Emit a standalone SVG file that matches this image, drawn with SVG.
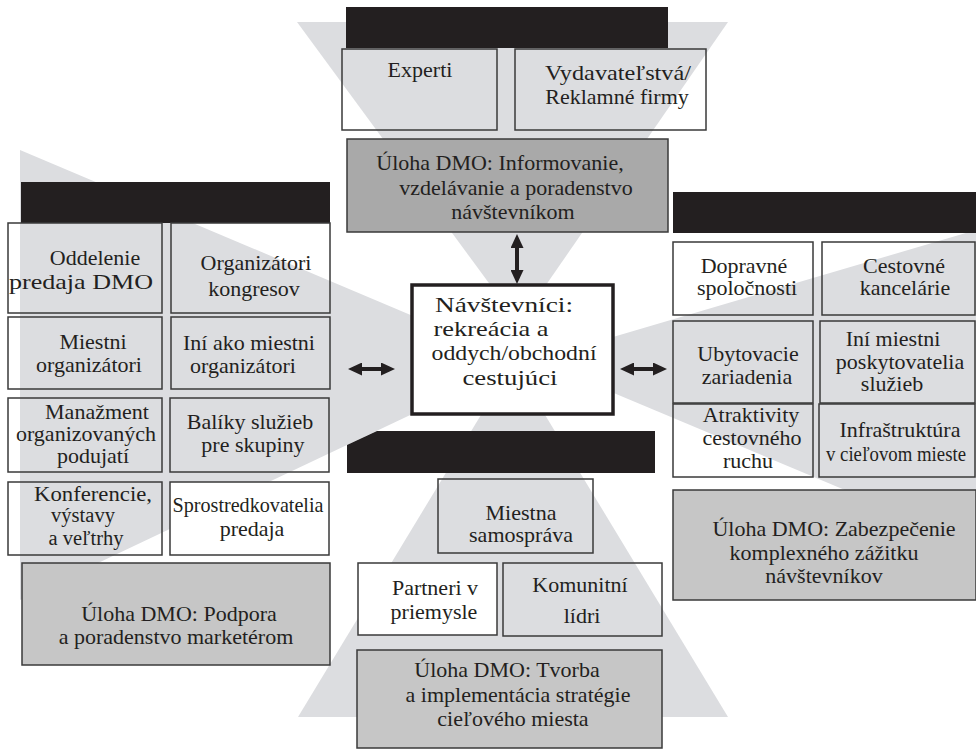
<svg xmlns="http://www.w3.org/2000/svg" width="976" height="751" viewBox="0 0 976 751">
<style>
text{font-family:"Liberation Serif","Times New Roman",serif;font-size:22px;fill:#231f20;text-anchor:middle}
.s{font-size:20.5px}
.tri{fill:#dcdde0}
.bar{fill:#231f20}
.b{fill:none;stroke:#3a3a3a;stroke-width:1.5}
.w{fill:#ffffff;stroke:#3a3a3a;stroke-width:1.5}
.d1{fill:#a9a9a9;stroke:#3a3a3a;stroke-width:1.5}
.d2{fill:#c6c6c6;stroke:#3a3a3a;stroke-width:1.5}
.c{fill:#ffffff;stroke:#231f20;stroke-width:3.5}
.arr{stroke:#231f20;stroke-width:4;fill:none;marker-start:url(#ah);marker-end:url(#ah)}
</style>
<defs>
<marker id="ah" viewBox="0 0 14 13" refX="5" refY="6.5" markerWidth="14" markerHeight="13" markerUnits="userSpaceOnUse" orient="auto-start-reverse">
<path d="M0,0 L14,6.5 L0,13 z" fill="#231f20"/>
</marker>
</defs>
<g id="background">
<polygon class="tri" points="297,22 728,22 519,324"/>
<polygon class="tri" points="298,717 728,717 513,362"/>
<polygon class="tri" points="20,150 20,600 522,362"/>
<polygon class="tri" points="976,230 976,545 535,360"/>
</g>
<g id="top-group">
<rect class="bar" x="346" y="7" width="322" height="41"/>
<g id="experti"><rect class="b" x="342" y="49" width="155" height="81"/><text x="420" y="77">Experti</text></g>
<g id="vydavatelstva"><rect class="b" x="515" y="49" width="191" height="81"/><text x="618" y="80" textLength="146" lengthAdjust="spacingAndGlyphs">Vydavateľstvá/</text><text x="617" y="104">Reklamné firmy</text></g>
<g id="uloha-top"><rect class="d1" x="347" y="139" width="321" height="93"/><text x="500" y="170">Úloha DMO: Informovanie,</text><text x="516" y="195">vzdelávanie a poradenstvo</text><text x="513" y="219">návštevníkom</text></g>
</g>
<g id="left-group">
<rect class="bar" x="21" y="182" width="309" height="41"/>
<g id="oddelenie"><rect class="b" x="8" y="223" width="154" height="90"/><text x="95" y="265">Oddelenie</text><text x="81" y="289" textLength="144" lengthAdjust="spacingAndGlyphs">predaja DMO</text></g>
<g id="organizatori-kongresov"><rect class="b" x="171" y="223" width="159" height="90"/><text x="256" y="270">Organizátori</text><text x="254" y="296">kongresov</text></g>
<g id="miestni-organizatori"><rect class="b" x="8" y="317" width="154" height="72"/><text x="93" y="349">Miestni</text><text x="89" y="372">organizátori</text></g>
<g id="ini-ako-miestni"><rect class="b" x="171" y="317" width="159" height="72"/><text x="249" y="350">Iní ako miestni</text><text x="243" y="373">organizátori</text></g>
<g id="manazment"><rect class="b" x="8" y="398" width="154" height="74"/><text x="97" y="419">Manažment</text><text x="86" y="441">organizovaných</text><text x="93" y="463">podujatí</text></g>
<g id="baliky"><rect class="b" x="170" y="398" width="159" height="74"/><text x="250" y="429">Balíky služieb</text><text x="253" y="452">pre skupiny</text></g>
<g id="konferencie"><rect class="b" x="8" y="482" width="154" height="73"/><text class="s" x="93" y="501" textLength="118" lengthAdjust="spacingAndGlyphs">Konferencie,</text><text class="s" x="83" y="522">výstavy</text><text class="s" x="86" y="545">a veľtrhy</text></g>
<g id="sprostredkovatelia"><rect class="w" x="170" y="482" width="159" height="73"/><text x="248" y="512" textLength="151" lengthAdjust="spacingAndGlyphs">Sprostredkovatelia</text><text x="252" y="536">predaja</text></g>
<g id="uloha-left"><rect class="d2" x="22" y="563" width="308" height="102"/><text x="179" y="621">Úloha DMO: Podpora</text><text x="176" y="644">a poradenstvo marketérom</text></g>
</g>
<g id="right-group">
<rect class="bar" x="673" y="192" width="303" height="41"/>
<g id="dopravne"><rect class="b" x="673" y="242" width="140" height="73"/><text x="744" y="273">Dopravné</text><text x="747" y="295">spoločnosti</text></g>
<g id="cestovne"><rect class="b" x="822" y="242" width="153" height="73"/><text x="904" y="273">Cestovné</text><text x="905" y="295">kancelárie</text></g>
<g id="ubytovacie"><rect class="b" x="673" y="321" width="140" height="82"/><text x="748" y="361">Ubytovacie</text><text x="747" y="384">zariadenia</text></g>
<g id="ini-miestni"><rect class="b" x="820" y="321" width="155" height="82"/><text x="893" y="346">Iní miestni</text><text x="900" y="369">poskytovatelia</text><text x="892" y="391">služieb</text></g>
<g id="atraktivity"><rect class="b" x="673" y="404" width="140" height="73"/><text x="751" y="422">Atraktivity</text><text x="752" y="445">cestovného</text><text x="748" y="468">ruchu</text></g>
<g id="infrastruktura"><rect class="b" x="819" y="404" width="156" height="73"/><text x="900" y="437">Infraštruktúra</text><text x="896" y="461" textLength="140" lengthAdjust="spacingAndGlyphs">v cieľovom mieste</text></g>
<g id="uloha-right"><rect class="d2" x="673" y="490" width="303" height="110"/><text x="834" y="536">Úloha DMO: Zabezpečenie</text><text x="824" y="560">komplexného zážitku</text><text x="824" y="583">návštevníkov</text></g>
</g>
<g id="bottom-group">
<polygon class="bar" points="347,445 377,431 655,431 655,473 347,473"/>
<g id="miestna-samosprava"><rect class="b" x="438" y="479" width="155" height="74"/><text x="521" y="520">Miestna</text><text x="521" y="542">samospráva</text></g>
<g id="partneri"><rect class="w" x="358" y="563" width="139" height="72"/><text x="435" y="595">Partneri v</text><text x="434" y="619">priemysle</text></g>
<g id="komunitni"><rect class="b" x="503" y="563" width="159" height="73"/><text x="580" y="592">Komunitní</text><text x="582" y="623">lídri</text></g>
<g id="uloha-bottom"><rect class="d2" x="357" y="650" width="305" height="98"/><text x="507" y="677">Úloha DMO: Tvorba</text><text x="518" y="702">a implementácia stratégie</text><text x="513" y="726">cieľového miesta</text></g>
</g>
<g id="center">
<rect class="c" x="412" y="285" width="201" height="129"/>
<text x="504" y="312" textLength="138" lengthAdjust="spacingAndGlyphs">Návštevníci:</text>
<text x="491" y="336" textLength="115" lengthAdjust="spacingAndGlyphs">rekreácia a</text>
<text x="514" y="360" textLength="165" lengthAdjust="spacingAndGlyphs">oddych/obchodní</text>
<text x="510" y="385" textLength="95" lengthAdjust="spacingAndGlyphs">cestujúci</text>
</g>
<g id="connectors">
<line class="arr" x1="517" y1="243" x2="517" y2="275"/>
<line class="arr" x1="357" y1="369" x2="386" y2="369"/>
<line class="arr" x1="629" y1="369" x2="658" y2="369"/>
</g>
</svg>
